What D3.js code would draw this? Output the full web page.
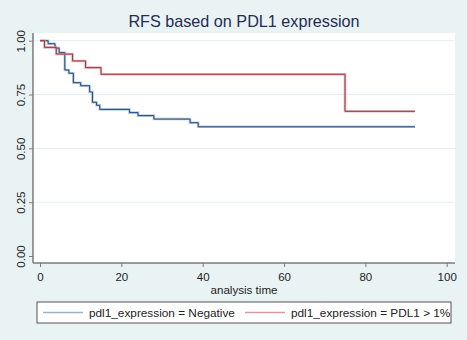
<!DOCTYPE html>
<html>
<head>
<meta charset="utf-8">
<script src="https://cdn.jsdelivr.net/npm/d3@7"></script>
<style>
  body { margin: 0; background: #eaf3f4; }
  svg { display: block; font-family: "Liberation Sans", Arial, Helvetica, sans-serif; }
</style>
</head>
<body>
<div id="vis"></div>
<script>
// Kaplan-Meier steps: [time, survival after the event]
var negative_steps = [
  [0, 1.0], [2.0, 0.986], [3.7, 0.966], [4.7, 0.945], [6.1, 0.864],
  [7.1, 0.849], [8.2, 0.805], [10.0, 0.791], [12.2, 0.762], [12.9, 0.714],
  [13.9, 0.700], [14.7, 0.681], [22.0, 0.666], [24.1, 0.652], [28.0, 0.636],
  [36.9, 0.619], [38.9, 0.600]
];
var negative_last = 92.2;

var pdl1_steps = [
  [0, 1.0], [1.1, 0.969], [4.0, 0.938], [8.0, 0.906], [11.2, 0.875],
  [15.0, 0.844], [75.0, 0.672]
];
var pdl1_last = 92.2;

var x_ticks = [0, 20, 40, 60, 80, 100];
var y_ticks = [0, 0.25, 0.5, 0.75, 1];

var series_names = ["pdl1_expression = Negative", "pdl1_expression = PDL1 > 1%"];
var series_colors = ["#1f4b7a", "#a2343f"];
var halo_colors = ["#9db3cb", "#d79aa1"];

var W = 467, H = 340;
var plot = { left: 33, right: 455, top: 33, bottom: 263 };

var scales = {
  time: d3.scaleLinear().domain([0, 100]).range([40, 446.7]),
  surv: d3.scaleLinear().domain([0, 1]).range([256, 40.7])
};

var svg = d3.select("#vis")
  .append("svg")
  .attr("width", W)
  .attr("height", H);

svg.append("rect")
  .attr("width", W).attr("height", H)
  .attr("fill", "#eaf3f4");

svg.append("rect")
  .attr("x", plot.left).attr("y", plot.top)
  .attr("width", plot.right - plot.left)
  .attr("height", plot.bottom - plot.top)
  .attr("fill", "#ffffff");

// grid lines
svg.selectAll(".grid")
  .data(y_ticks.filter(function(d) { return d > 0; }))
  .enter()
  .append("line")
  .attr("class", "grid")
  .attr("x1", plot.left).attr("x2", plot.right)
  .attr("y1", function(d) { return scales.surv(d); })
  .attr("y2", function(d) { return scales.surv(d); })
  .attr("stroke", "#e4eef0")
  .attr("stroke-width", 1);

// title
svg.append("text")
  .attr("x", (plot.left + plot.right) / 2)
  .attr("y", 27)
  .attr("text-anchor", "middle")
  .attr("font-size", 16.2)
  .attr("fill", "#232c55")
  .text("RFS based on PDL1 expression");

// y axis
var y_axis = d3.axisLeft(scales.surv)
  .tickValues(y_ticks)
  .tickFormat(d3.format(".2f"))
  .tickSize(4)
  .tickSizeOuter(0);
var gy = svg.append("g")
  .attr("transform", "translate(" + plot.left + ",0)")
  .call(y_axis);
gy.select(".domain").remove();
gy.selectAll(".tick line").attr("stroke", "#7a7a7a");
gy.selectAll("text")
  .attr("transform", "rotate(-90)")
  .attr("x", 0)
  .attr("y", -8)
  .attr("dy", 0)
  .attr("text-anchor", "middle")
  .attr("font-size", 11.5)
  .attr("fill", "#222");
gy.append("line")
  .attr("x1", 0).attr("x2", 0)
  .attr("y1", plot.top).attr("y2", plot.bottom)
  .attr("stroke", "#7a7a7a").attr("stroke-width", 1.5);

// x axis
var x_axis = d3.axisBottom(scales.time)
  .tickValues(x_ticks)
  .tickSize(4)
  .tickPadding(6)
  .tickSizeOuter(0);
var gx = svg.append("g")
  .attr("transform", "translate(0," + plot.bottom + ")")
  .call(x_axis);
gx.select(".domain").remove();
gx.selectAll(".tick line").attr("stroke", "#7a7a7a");
gx.selectAll("text")
  .attr("font-size", 11.5)
  .attr("fill", "#222");
gx.append("line")
  .attr("x1", plot.left).attr("x2", plot.right)
  .attr("y1", 0).attr("y2", 0)
  .attr("stroke", "#7a7a7a").attr("stroke-width", 1.5);

svg.append("text")
  .attr("x", (plot.left + plot.right) / 2)
  .attr("y", 294)
  .attr("text-anchor", "middle")
  .attr("font-size", 11.6)
  .attr("fill", "#222")
  .text("analysis time");

// survival curves
var step_line = d3.line()
  .x(function(d) { return scales.time(d[0]); })
  .y(function(d) { return scales.surv(d[1]); })
  .curve(d3.curveStepAfter);

var curves = [
  negative_steps.concat([[negative_last, negative_steps[negative_steps.length - 1][1]]]),
  pdl1_steps.concat([[pdl1_last, pdl1_steps[pdl1_steps.length - 1][1]]])
];

curves.forEach(function(pts, i) {
  svg.append("path")
    .attr("d", step_line(pts))
    .attr("fill", "none")
    .attr("stroke", halo_colors[i])
    .attr("stroke-width", 2.6)
    .attr("opacity", 0.7);
  svg.append("path")
    .attr("d", step_line(pts))
    .attr("fill", "none")
    .attr("stroke", series_colors[i])
    .attr("stroke-width", 1);
});

// legend
var legend = svg.append("g");
legend.append("rect")
  .attr("x", 37).attr("y", 302)
  .attr("width", 414).attr("height", 21)
  .attr("fill", "#ffffff");

var legend_x = [43, 245];
series_names.forEach(function(name, i) {
  legend.append("line")
    .attr("x1", legend_x[i]).attr("x2", legend_x[i] + 40)
    .attr("y1", 312.5).attr("y2", 312.5)
    .attr("stroke", halo_colors[i])
    .attr("stroke-width", 1.5);
  legend.append("text")
    .attr("x", legend_x[i] + 46)
    .attr("y", 316.5)
    .attr("font-size", 11.8)
    .attr("fill", "#222")
    .text(name);
});

legend.append("rect")
  .attr("x", 37).attr("y", 302)
  .attr("width", 414).attr("height", 21)
  .attr("fill", "none")
  .attr("stroke", "#555")
  .attr("stroke-width", 1);
</script>
</body>
</html>
